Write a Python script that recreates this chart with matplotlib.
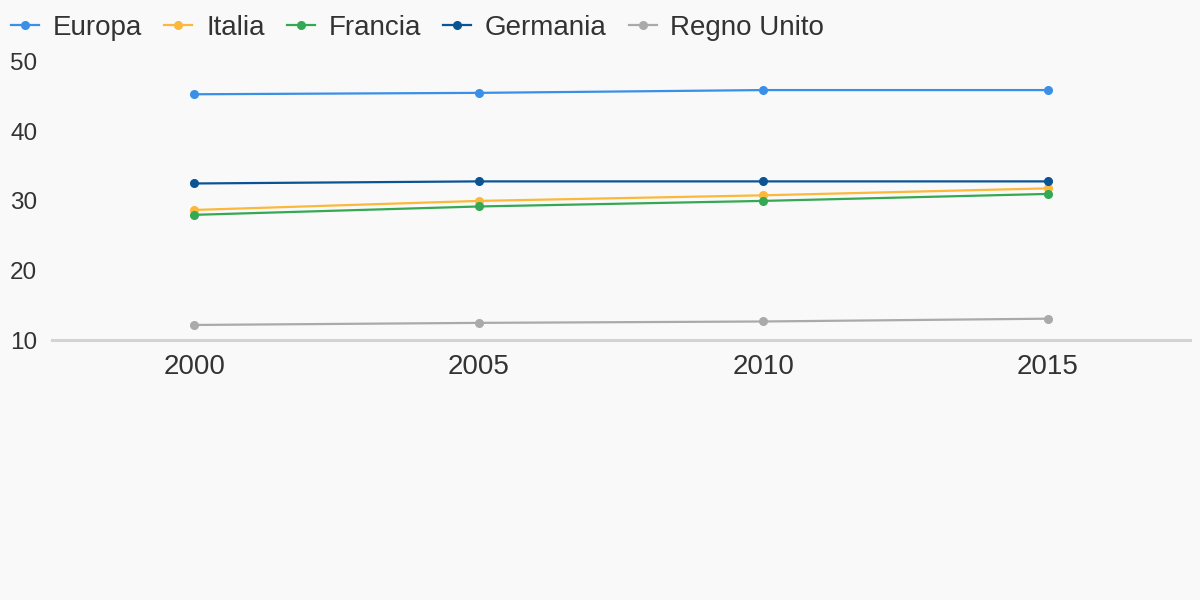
import matplotlib
matplotlib.use("Agg")
import matplotlib.pyplot as plt

years = [2000, 2005, 2010, 2015]
europa = [45.3, 45.5, 45.9, 45.9]
italia = [28.7, 30.0, 30.8, 31.8]
francia = [28.0, 29.2, 30.0, 31.0]
germania = [32.5, 32.8, 32.8, 32.8]
regno_unito = [12.2, 12.5, 12.7, 13.1]

series = [
    ("Europa", europa, "#3a8fe8"),
    ("Italia", italia, "#fbb83a"),
    ("Francia", francia, "#34a853"),
    ("Germania", germania, "#0a5494"),
    ("Regno Unito", regno_unito, "#aaaaaa"),
]
yticks = [10, 20, 30, 40, 50]

plt.rcParams['font.family'] = ['Liberation Sans', 'DejaVu Sans']
bg = "#f9f9f9"
fig = plt.figure(figsize=(12, 6), dpi=100, facecolor=bg)
ax = fig.add_axes([52/1200, 1 - 340.3/600, (1190-52)/1200, (340.3-61.5)/600])
ax.set_facecolor(bg)

for name, vals, col in series:
    ax.plot(years, vals, color=col, lw=1.6, marker='o', markersize=5.5,
            label=name, clip_on=False)

ax.set_xlim(1997.5, 2017.5)
ax.set_ylim(10, 50)
ax.set_xticks(years)
ax.set_yticks(yticks)
for s in ['top', 'right', 'left']:
    ax.spines[s].set_visible(False)
ax.spines['bottom'].set_color('#d3d3d3')
ax.spines['bottom'].set_linewidth(2.2)
ax.tick_params(axis='x', length=0, pad=10, labelsize=20, labelcolor='#333333')
ax.tick_params(axis='y', length=0, pad=30.2, labelsize=17.5, labelcolor='#333333')
for lbl in ax.get_yticklabels():
    lbl.set_horizontalalignment('left')
    lbl.set_verticalalignment('center_baseline')

fig.legend(loc='center left', bbox_to_anchor=(3/1200, 1 - 28/600), ncol=5,
           frameon=False, fontsize=20, handlelength=1.0, handletextpad=0.5,
           columnspacing=0.8, labelcolor='#333333', borderaxespad=0, borderpad=0.3)

fig.savefig("out.png", dpi=100, facecolor=bg)
